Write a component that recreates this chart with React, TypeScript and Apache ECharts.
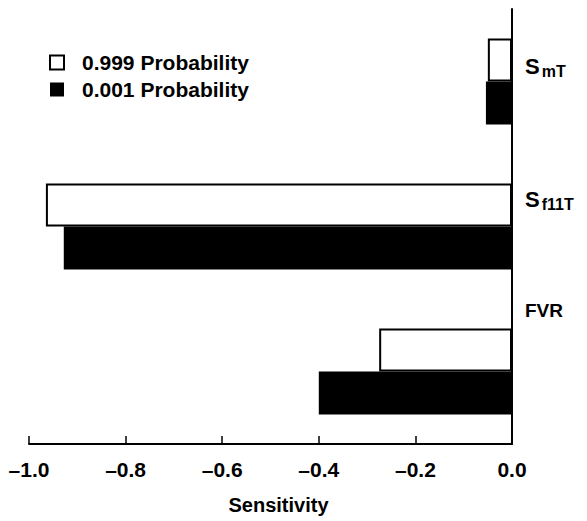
import React, { useEffect, useRef } from "react";
import * as echarts from "echarts";

const categories = ["SmT", "Sf11T", "FVR"];
const labelMain = ["S", "S", "FVR"];
const labelSub = ["mT", "f11T", ""];
const labelLift = [30, 54, 122];
const seriesNames = ["0.999 Probability", "0.001 Probability"];
const prob999 = [-0.05, -0.965, -0.275];
const prob001 = [-0.054, -0.928, -0.4];

const FONT = "Liberation Sans, Arial, Helvetica, sans-serif";

export default function App() {
  const ref = useRef<HTMLDivElement>(null);
  useEffect(() => {
    if (!ref.current) return;
    const chart = echarts.init(ref.current, null, { renderer: "svg" });
    chart.setOption({
      animation: false,
      backgroundColor: "#fff",
      grid: { left: 29, right: 75, top: 9, bottom: 77, containLabel: false },
      legend: {
        orient: "vertical",
        left: 49,
        top: 52,
        padding: 0,
        itemWidth: 14,
        itemHeight: 14,
        itemGap: 6,
        icon: "rect",
        textStyle: {
          fontFamily: FONT,
          fontWeight: "bold",
          fontSize: 21,
          color: "#000",
          padding: [0, 0, 0, 13],
        },
        data: [
          { name: seriesNames[0], itemStyle: { color: "#fff", borderColor: "#000", borderWidth: 2 } },
          { name: seriesNames[1], itemStyle: { color: "#000", borderColor: "#000", borderWidth: 0 } },
        ],
      },
      xAxis: {
        type: "value",
        min: -1,
        max: 0,
        interval: 0.2,
        name: "Sensitivity",
        nameLocation: "middle",
        nameGap: 51,
        nameTextStyle: {
          fontFamily: FONT,
          fontWeight: "bold",
          fontSize: 20,
          color: "#000",
          padding: [0, 0, 0, 16],
        },
        axisLine: { show: true, onZero: false, lineStyle: { color: "#000", width: 2 } },
        axisTick: { show: true, inside: true, length: 8, lineStyle: { color: "#000", width: 1.5 } },
        splitLine: { show: false },
        axisLabel: {
          margin: 15,
          fontFamily: FONT,
          fontWeight: "bold",
          fontSize: 21,
          color: "#000",
          formatter: (v: number) => (v < 0 ? "\u2013" + Math.abs(v).toFixed(1) : v.toFixed(1)),
        },
      },
      yAxis: {
        type: "category",
        inverse: true,
        position: "right",
        data: categories.map((c, i) => ({
          value: c,
          textStyle: { padding: [0, 0, labelLift[i], 0] },
        })),
        axisLine: { show: true, onZero: false, lineStyle: { color: "#000", width: 2 } },
        axisTick: { show: false },
        splitLine: { show: false },
        axisLabel: {
          margin: 13,
          color: "#000",
          formatter: (v: string) => {
            const i = categories.indexOf(v);
            if (labelSub[i]) return `{s|${labelMain[i]}}{sub|${labelSub[i]}}`;
            return `{f|${labelMain[i]}}`;
          },
          rich: {
            s: { fontFamily: FONT, fontWeight: "bold", fontSize: 22, lineHeight: 24, color: "#000" },
            sub: {
              fontFamily: FONT,
              fontWeight: "bold",
              fontSize: 16,
              lineHeight: 16,
              padding: [10, 0, 0, 2],
              color: "#000",
            },
            f: { fontFamily: FONT, fontWeight: "bold", fontSize: 19, lineHeight: 24, color: "#000" },
          },
        },
      },
      series: [
        {
          name: seriesNames[0],
          type: "bar",
          data: prob999,
          barWidth: 43,
          barGap: "0%",
          itemStyle: { color: "#fff", borderColor: "#000", borderWidth: 2 },
        },
        {
          name: seriesNames[1],
          type: "bar",
          data: prob001,
          barWidth: 43,
          barGap: "0%",
          itemStyle: { color: "#000", borderColor: "#000", borderWidth: 0 },
        },
      ],
    });
    return () => chart.dispose();
  }, []);
  return (
    <div
      ref={ref}
      style={{ position: "fixed", left: 0, top: 0, width: 587, height: 521, background: "#fff" }}
    />
  );
}
